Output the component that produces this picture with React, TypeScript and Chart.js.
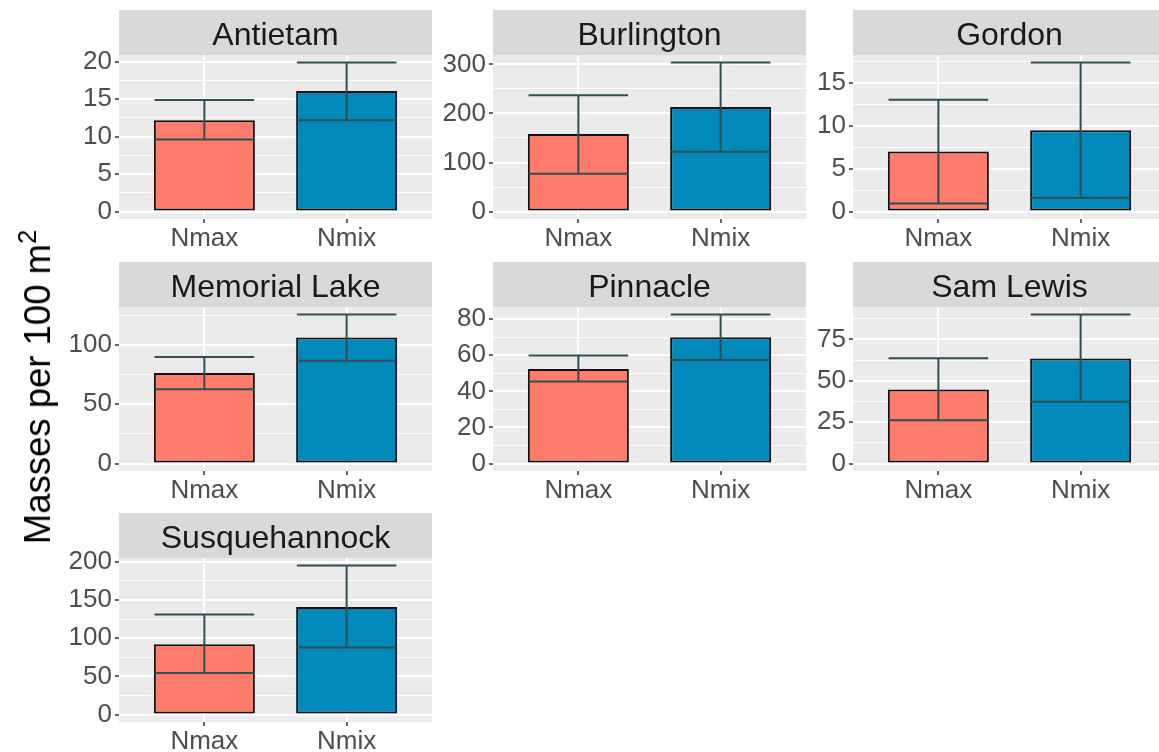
import React, { useEffect, useRef } from "react";
import { Chart, registerables } from "chart.js";

Chart.register(...registerables);

// ---------- data ----------
const sites = ["Antietam", "Burlington", "Gordon", "Memorial Lake", "Pinnacle", "Sam Lewis", "Susquehannock"];
const methods = ["Nmax", "Nmix"];
const nmaxMean = [12.2, 158, 7.0, 76.5, 52.4, 44.8, 92.1];
const nmaxLower = [9.6, 77, 0.95, 62.7, 45.4, 26.1, 54.5];
const nmaxUpper = [14.9, 237, 13.05, 89.9, 59.8, 63.7, 131];
const nmixMean = [16.1, 213, 9.5, 106.4, 70.0, 63.5, 141];
const nmixLower = [12.2, 122, 1.6, 86.8, 57.3, 37.4, 87.8];
const nmixUpper = [19.9, 304, 17.4, 125.8, 82.6, 90.1, 195.3];
const yTickLabels = [
  [0, 5, 10, 15, 20],
  [0, 100, 200, 300],
  [0, 5, 10, 15],
  [0, 50, 100],
  [0, 20, 40, 60, 80],
  [0, 25, 50, 75],
  [0, 50, 100, 150, 200],
];

// ---------- style / layout ----------
const SALMON = "#FF7B6B";
const BLUE = "#0089BA";
const WHISKER = "#2F4F4F";
const FONT = "'Liberation Sans', Arial, sans-serif";
const PANEL_W = 313;
const PANEL_H = 164;
const STRIP_H = 45;
const AXIS_W = 110;
const XAXIS_H = 40;
const colLefts = [119, 493, 853];
const rowTops = [10, 262, 513];
const BAR_W = 0.7;

function Panel({ index }: { index: number }) {
  const ref = useRef<HTMLCanvasElement | null>(null);
  useEffect(() => {
    if (!ref.current) return;
    const means = [nmaxMean[index], nmixMean[index]];
    const lowers = [nmaxLower[index], nmixLower[index]];
    const uppers = [nmaxUpper[index], nmixUpper[index]];
    const maxV = Math.max(...uppers);
    const yMin = -0.05 * maxV;
    const yMax = 1.05 * maxV;
    const majors = yTickLabels[index];
    const step = majors[1] - majors[0];
    const all: number[] = [];
    for (let k = -1; majors[0] + (k * step) / 2 <= yMax; k++) {
      const v = majors[0] + (k * step) / 2;
      if (v >= yMin) all.push(v);
    }
    const isMajor = (v: number) => majors.some((m) => Math.abs(m - v) < 1e-9);

    const panelPlugin = {
      id: "panelBg",
      beforeDraw(chart: any) {
        const { ctx, chartArea } = chart;
        ctx.save();
        ctx.fillStyle = "#EBEBEB";
        ctx.fillRect(chartArea.left, chartArea.top, chartArea.right - chartArea.left, chartArea.bottom - chartArea.top);
        ctx.fillStyle = "#D9D9D9";
        ctx.fillRect(chartArea.left, chartArea.top - STRIP_H, chartArea.right - chartArea.left, STRIP_H);
        ctx.fillStyle = "#1A1A1A";
        ctx.font = `32px ${FONT}`;
        ctx.textAlign = "center";
        ctx.textBaseline = "alphabetic";
        ctx.fillText(sites[index], (chartArea.left + chartArea.right) / 2, chartArea.top - 10);
        ctx.restore();
      },
    };

    const errPlugin = {
      id: "errBars",
      afterDatasetsDraw(chart: any) {
        const { ctx } = chart;
        const xs = chart.scales.x;
        const ys = chart.scales.y;
        ctx.save();
        ctx.strokeStyle = WHISKER;
        ctx.lineWidth = 2;
        for (let i = 0; i < methods.length; i++) {
          const cx = xs.getPixelForValue(i + 1);
          const half = xs.getPixelForValue(i + 1 + BAR_W / 2) - cx;
          const lo = ys.getPixelForValue(lowers[i]);
          const hi = ys.getPixelForValue(uppers[i]);
          ctx.beginPath();
          ctx.moveTo(cx - half, lo);
          ctx.lineTo(cx + half, lo);
          ctx.moveTo(cx - half, hi);
          ctx.lineTo(cx + half, hi);
          ctx.moveTo(cx, lo);
          ctx.lineTo(cx, hi);
          ctx.stroke();
        }
        ctx.restore();
      },
    };

    const tickFont = { family: FONT, size: 26 };
    const chart = new Chart(ref.current, {
      type: "bar",
      data: {
        datasets: [
          {
            data: methods.map((m, i) => ({ x: i + 1, y: means[i] })),
            backgroundColor: [SALMON, BLUE],
            borderColor: "#111111",
            borderWidth: 2,
            borderSkipped: false,
            barPercentage: BAR_W + 0.01,
            categoryPercentage: 1,
          } as any,
        ],
      },
      options: {
        animation: false,
        responsive: false,
        layout: { padding: { top: STRIP_H, left: 0, right: 0, bottom: 0 } },
        plugins: { legend: { display: false }, tooltip: { enabled: false }, title: { display: false } },
        scales: {
          x: {
            type: "linear",
            min: 0.4,
            max: 2.6,
            offset: false,
            afterBuildTicks: (s: any) => {
              s.ticks = methods.map((m, i) => ({ value: i + 1 }));
            },
            afterFit: (s: any) => {
              s.height = XAXIS_H;
            },
            grid: { offset: false, color: "#FFFFFF", lineWidth: 2, tickColor: "#333333", tickLength: 4, tickWidth: 1.5 },
            border: { display: false },
            ticks: {
              callback: (v: any) => methods[Math.round(Number(v)) - 1] ?? "",
              font: tickFont,
              color: "#4D4D4D",
              padding: 0,
              autoSkip: false,
              maxRotation: 0,
            },
          },
          y: {
            type: "linear",
            min: yMin,
            max: yMax,
            afterBuildTicks: (s: any) => {
              s.ticks = all.map((v) => ({ value: v }));
            },
            afterFit: (s: any) => {
              s.width = AXIS_W;
            },
            grid: {
              color: "#FFFFFF",
              lineWidth: (c: any) => (c.tick && isMajor(c.tick.value) ? 2 : 1),
              tickColor: (c: any) => (c.tick && isMajor(c.tick.value) ? "#333333" : "rgba(0,0,0,0)"),
              tickLength: 4,
              tickWidth: 1.5,
            },
            border: { display: false },
            ticks: {
              callback: (v: any) => (isMajor(Number(v)) ? String(Math.round(Number(v))) : ""),
              font: tickFont,
              color: "#4D4D4D",
              padding: 3,
              autoSkip: false,
            },
          },
        },
      } as any,
      plugins: [panelPlugin, errPlugin],
    });
    return () => chart.destroy();
  }, [index]);

  const col = index % 3;
  const row = Math.floor(index / 3);
  const w = AXIS_W + PANEL_W;
  const h = STRIP_H + PANEL_H + XAXIS_H;
  return (
    <canvas
      ref={ref}
      width={w}
      height={h}
      style={{ position: "absolute", left: colLefts[col] - AXIS_W, top: rowTops[row], width: w, height: h }}
    />
  );
}

export default function App() {
  return (
    <div
      style={{
        position: "fixed",
        left: 0,
        top: 0,
        width: 1159,
        height: 752,
        overflow: "hidden",
        background: "#FFFFFF",
      }}
    >
      {sites.map((s, i) => (
        <Panel key={s} index={i} />
      ))}
      <div style={{ position: "absolute", left: 38, top: 387, width: 0, height: 0 }}>
        <div
          style={{
            position: "absolute",
            left: 0,
            top: 0,
            transform: "translate(-50%, -50%) rotate(-90deg)",
            whiteSpace: "nowrap",
            fontFamily: FONT,
            fontSize: 36.5,
            color: "#000000",
            lineHeight: "40px",
          }}
        >
          Masses per 100 m<sup style={{ fontSize: "0.7em", verticalAlign: "0.55em", lineHeight: 0 }}>2</sup>
        </div>
      </div>
    </div>
  );
}
